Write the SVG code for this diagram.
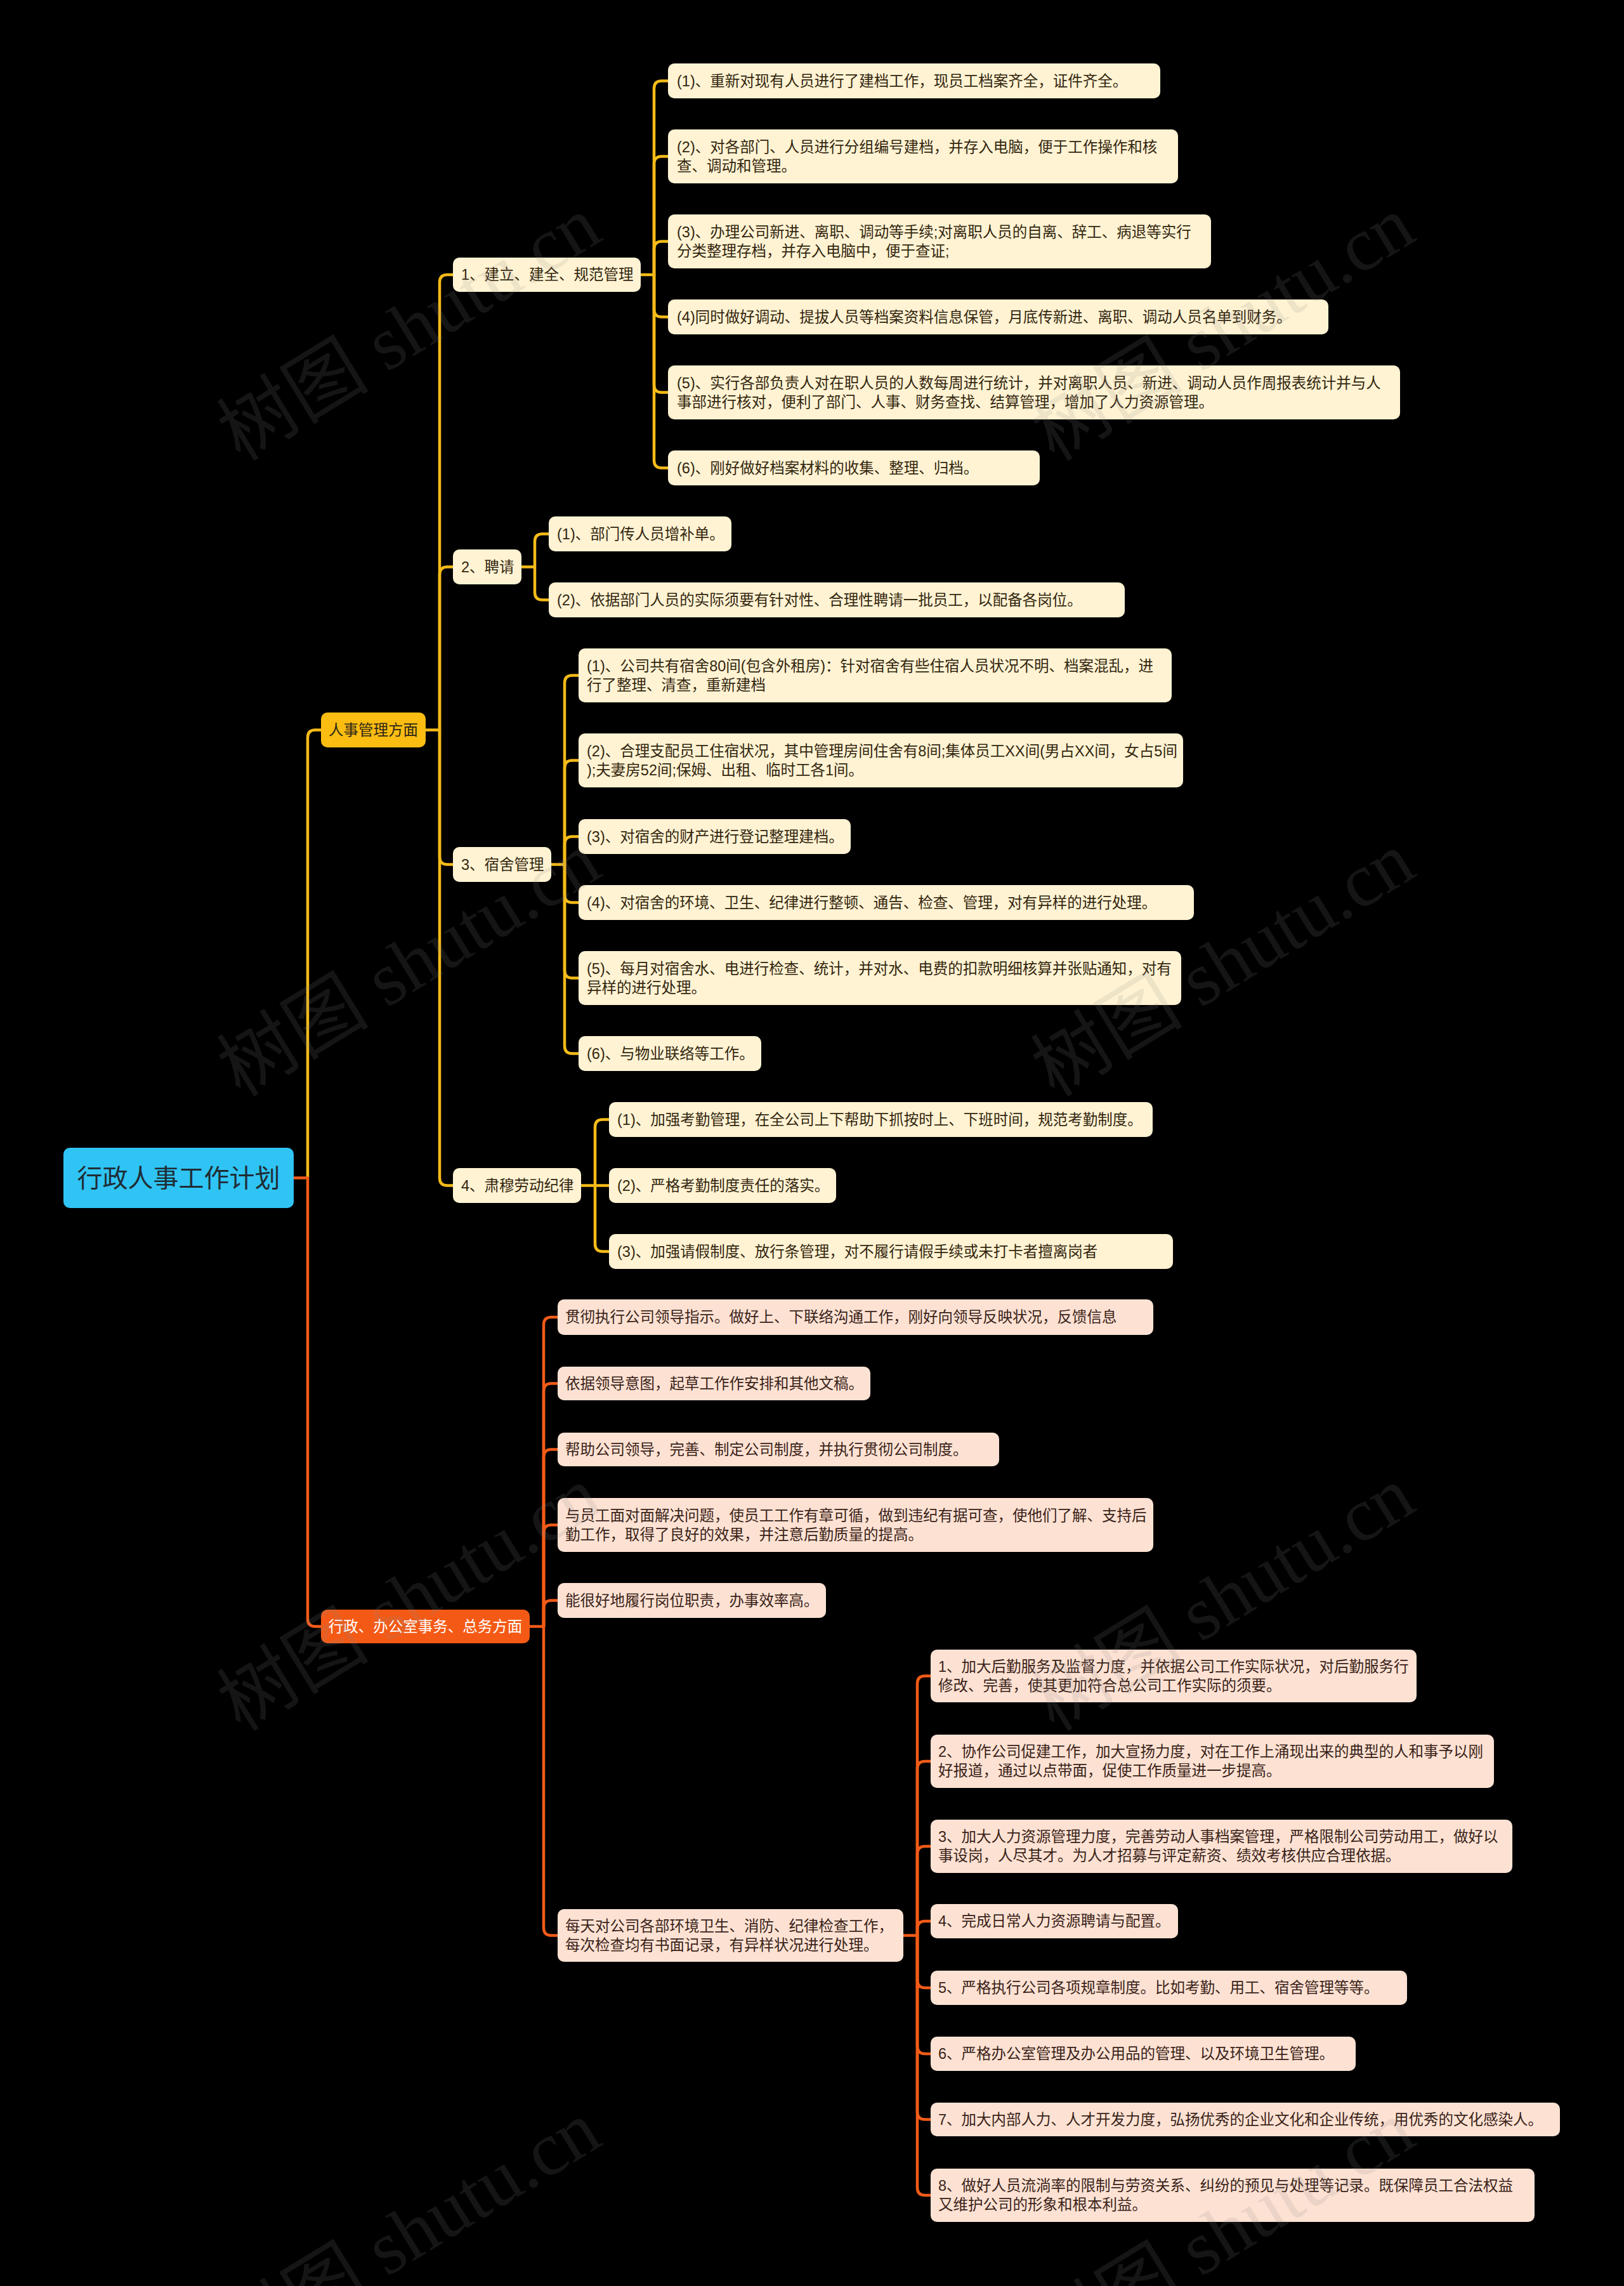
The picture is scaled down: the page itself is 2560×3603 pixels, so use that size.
<svg xmlns="http://www.w3.org/2000/svg" width="2560" height="3603" viewBox="0 0 2560 3603">
<style>
text{font-family:"Liberation Sans","Noto Sans CJK SC",sans-serif;dominant-baseline:central}
.cream{fill:#fff3d3}
.peach{fill:#fde2d3}
.t{font-size:23.5px;fill:#33260f}
.tp{font-size:23.5px;fill:#3a2219}
.y{fill:none;stroke:#f5bb18;stroke-width:4.5;stroke-linecap:round;stroke-linejoin:round}
.o{fill:none;stroke:#f25b17;stroke-width:4.5;stroke-linecap:round;stroke-linejoin:round}
.wm{font-family:"Liberation Serif","Noto Sans CJK SC",serif;font-size:120px;fill:#8a8a8a;opacity:0.15;text-anchor:middle}
</style>
<rect x="0" y="0" width="2560" height="3603" fill="#000"/>
<g id="connectors">
<path class="y" d="M485,1856.5 V1162.5 Q485,1150.5 497,1150.5 H506"/>
<path class="o" d="M463,1856.5 H485 V2551.5 Q485,2563.5 497,2563.5 H506"/>
<path class="y" d="M671,1150.5 H693 V445 Q693,433 705,433 H714"/>
<path class="y" d="M693,1150.5 V905.5 Q693,893.5 705,893.5 H714"/>
<path class="y" d="M693,1150.5 V1350.5 Q693,1362.5 705,1362.5 H714"/>
<path class="y" d="M693,1150.5 V1856.5 Q693,1868.5 705,1868.5 H714"/>
<path class="y" d="M1010,433 H1031 V139.5 Q1031,127.5 1043,127.5 H1053"/>
<path class="y" d="M1031,433 V258.5 Q1031,246.5 1043,246.5 H1053"/>
<path class="y" d="M1031,433 V392.5 Q1031,380.5 1043,380.5 H1053"/>
<path class="y" d="M1031,433 V487.5 Q1031,499.5 1043,499.5 H1053"/>
<path class="y" d="M1031,433 V606.5 Q1031,618.5 1043,618.5 H1053"/>
<path class="y" d="M1031,433 V725.5 Q1031,737.5 1043,737.5 H1053"/>
<path class="y" d="M822,893.5 H843 V853.5 Q843,841.5 855,841.5 H865"/>
<path class="y" d="M843,893.5 V933.5 Q843,945.5 855,945.5 H865"/>
<path class="y" d="M869,1362.5 H890 V1076.5 Q890,1064.5 902,1064.5 H912"/>
<path class="y" d="M890,1362.5 V1210.5 Q890,1198.5 902,1198.5 H912"/>
<path class="y" d="M890,1362.5 V1330.5 Q890,1318.5 902,1318.5 H912"/>
<path class="y" d="M890,1362.5 V1410.5 Q890,1422.5 902,1422.5 H912"/>
<path class="y" d="M890,1362.5 V1529.5 Q890,1541.5 902,1541.5 H912"/>
<path class="y" d="M890,1362.5 V1648.5 Q890,1660.5 902,1660.5 H912"/>
<path class="y" d="M916,1868.5 H938 V1776.5 Q938,1764.5 950,1764.5 H960"/>
<path class="y" d="M938,1868.5 H960"/>
<path class="y" d="M938,1868.5 V1960.5 Q938,1972.5 950,1972.5 H960"/>
<path class="o" d="M835,2563.5 H857 V2088 Q857,2076 869,2076 H879"/>
<path class="o" d="M857,2563.5 V2192.5 Q857,2180.5 869,2180.5 H879"/>
<path class="o" d="M857,2563.5 V2296.5 Q857,2284.5 869,2284.5 H879"/>
<path class="o" d="M857,2563.5 V2415.5 Q857,2403.5 869,2403.5 H879"/>
<path class="o" d="M857,2563.5 V2534.5 Q857,2522.5 869,2522.5 H879"/>
<path class="o" d="M857,2563.5 V3038.5 Q857,3050.5 869,3050.5 H879"/>
<path class="o" d="M1424,3050.5 H1446 V2653.5 Q1446,2641.5 1458,2641.5 H1467"/>
<path class="o" d="M1446,3050.5 V2788 Q1446,2776 1458,2776 H1467"/>
<path class="o" d="M1446,3050.5 V2922 Q1446,2910 1458,2910 H1467"/>
<path class="o" d="M1446,3050.5 V3040 Q1446,3028 1458,3028 H1467"/>
<path class="o" d="M1446,3050.5 V3121 Q1446,3133 1458,3133 H1467"/>
<path class="o" d="M1446,3050.5 V3225 Q1446,3237 1458,3237 H1467"/>
<path class="o" d="M1446,3050.5 V3328.5 Q1446,3340.5 1458,3340.5 H1467"/>
<path class="o" d="M1446,3050.5 V3448 Q1446,3460 1458,3460 H1467"/>
</g>
<g id="root"><rect x="100" y="1809" width="363" height="95" rx="10" fill="#2fc4f4"/><text x="281.5" y="1856.5" font-size="40" fill="#1f2d36" text-anchor="middle">行政人事工作计划</text></g>
<g id="b1"><rect x="506" y="1123" width="165" height="55" rx="10" fill="#fbbd12"/><text x="588.5" y="1150.5" font-size="23.5" fill="#2e2616" text-anchor="middle">人事管理方面</text></g>
<g id="b2"><rect x="506" y="2537" width="329" height="53" rx="10" fill="#f45a16"/><text x="670.5" y="2563.5" font-size="23.5" fill="#ffffff" text-anchor="middle">行政、办公室事务、总务方面</text></g>
<g id="n1"><rect class="cream" x="714" y="406" width="296" height="54" rx="10"/><text class="t" x="727" y="433">1、建立、建全、规范管理</text></g>
<g id="n2"><rect class="cream" x="714" y="866" width="108" height="55" rx="10"/><text class="t" x="727" y="893.5">2、聘请</text></g>
<g id="n3"><rect class="cream" x="714" y="1335" width="155" height="55" rx="10"/><text class="t" x="727" y="1362.5">3、宿舍管理</text></g>
<g id="n4"><rect class="cream" x="714" y="1841" width="202" height="55" rx="10"/><text class="t" x="727" y="1868.5">4、肃穆劳动纪律</text></g>
<g id="a1"><rect class="cream" x="1053" y="100" width="776" height="55" rx="10"/><text class="t" x="1067" y="127.5">(1)、重新对现有人员进行了建档工作，现员工档案齐全，证件齐全。</text></g>
<g id="a2"><rect class="cream" x="1053" y="204" width="804" height="85" rx="10"/><text class="t" x="1067" y="231.5">(2)、对各部门、人员进行分组编号建档，并存入电脑，便于工作操作和核</text><text class="t" x="1067" y="261.5">查、调动和管理。</text></g>
<g id="a3"><rect class="cream" x="1053" y="338" width="856" height="85" rx="10"/><text class="t" x="1067" y="365.5">(3)、办理公司新进、离职、调动等手续;对离职人员的自离、辞工、病退等实行</text><text class="t" x="1067" y="395.5">分类整理存档，并存入电脑中，便于查证;</text></g>
<g id="a4"><rect class="cream" x="1053" y="472" width="1041" height="55" rx="10"/><text class="t" x="1067" y="499.5">(4)同时做好调动、提拔人员等档案资料信息保管，月底传新进、离职、调动人员名单到财务。</text></g>
<g id="a5"><rect class="cream" x="1053" y="576" width="1154" height="85" rx="10"/><text class="t" x="1067" y="603.5">(5)、实行各部负责人对在职人员的人数每周进行统计，并对离职人员、新进、调动人员作周报表统计并与人</text><text class="t" x="1067" y="633.5">事部进行核对，便利了部门、人事、财务查找、结算管理，增加了人力资源管理。</text></g>
<g id="a6"><rect class="cream" x="1053" y="710" width="586" height="55" rx="10"/><text class="t" x="1067" y="737.5">(6)、刚好做好档案材料的收集、整理、归档。</text></g>
<g id="b1c1"><rect class="cream" x="865" y="814" width="288" height="55" rx="10"/><text class="t" x="878" y="841.5">(1)、部门传人员增补单。</text></g>
<g id="b1c2"><rect class="cream" x="865" y="918" width="908" height="55" rx="10"/><text class="t" x="878" y="945.5">(2)、依据部门人员的实际须要有针对性、合理性聘请一批员工，以配备各岗位。</text></g>
<g id="c1"><rect class="cream" x="912" y="1022" width="935" height="85" rx="10"/><text class="t" x="925" y="1049.5">(1)、公司共有宿舍80间(包含外租房)：针对宿舍有些住宿人员状况不明、档案混乱，进</text><text class="t" x="925" y="1079.5">行了整理、清查，重新建档</text></g>
<g id="c2"><rect class="cream" x="912" y="1156" width="953" height="85" rx="10"/><text class="t" x="925" y="1183.5">(2)、合理支配员工住宿状况，其中管理房间住舍有8间;集体员工XX间(男占XX间，女占5间</text><text class="t" x="925" y="1213.5">);夫妻房52间;保姆、出租、临时工各1间。</text></g>
<g id="c3"><rect class="cream" x="912" y="1291" width="429" height="55" rx="10"/><text class="t" x="925" y="1318.5">(3)、对宿舍的财产进行登记整理建档。</text></g>
<g id="c4"><rect class="cream" x="912" y="1395" width="970" height="55" rx="10"/><text class="t" x="925" y="1422.5">(4)、对宿舍的环境、卫生、纪律进行整顿、通告、检查、管理，对有异样的进行处理。</text></g>
<g id="c5"><rect class="cream" x="912" y="1499" width="950" height="85" rx="10"/><text class="t" x="925" y="1526.5">(5)、每月对宿舍水、电进行检查、统计，并对水、电费的扣款明细核算并张贴通知，对有</text><text class="t" x="925" y="1556.5">异样的进行处理。</text></g>
<g id="c6"><rect class="cream" x="912" y="1633" width="288" height="55" rx="10"/><text class="t" x="925" y="1660.5">(6)、与物业联络等工作。</text></g>
<g id="d1"><rect class="cream" x="960" y="1737" width="857" height="55" rx="10"/><text class="t" x="973" y="1764.5">(1)、加强考勤管理，在全公司上下帮助下抓按时上、下班时间，规范考勤制度。</text></g>
<g id="d2"><rect class="cream" x="960" y="1841" width="358" height="55" rx="10"/><text class="t" x="973" y="1868.5">(2)、严格考勤制度责任的落实。</text></g>
<g id="d3"><rect class="cream" x="960" y="1945" width="889" height="55" rx="10"/><text class="t" x="973" y="1972.5">(3)、加强请假制度、放行条管理，对不履行请假手续或未打卡者擅离岗者</text></g>
<g id="e1"><rect class="peach" x="879" y="2048" width="939" height="56" rx="10"/><text class="tp" x="891" y="2076">贯彻执行公司领导指示。做好上、下联络沟通工作，刚好向领导反映状况，反馈信息</text></g>
<g id="e2"><rect class="peach" x="879" y="2154" width="493" height="53" rx="10"/><text class="tp" x="891" y="2180.5">依据领导意图，起草工作作安排和其他文稿。</text></g>
<g id="e3"><rect class="peach" x="879" y="2258" width="696" height="53" rx="10"/><text class="tp" x="891" y="2284.5">帮助公司领导，完善、制定公司制度，并执行贯彻公司制度。</text></g>
<g id="e4"><rect class="peach" x="879" y="2361" width="939" height="85" rx="10"/><text class="tp" x="891" y="2388.5">与员工面对面解决问题，使员工工作有章可循，做到违纪有据可查，使他们了解、支持后</text><text class="tp" x="891" y="2418.5">勤工作，取得了良好的效果，并注意后勤质量的提高。</text></g>
<g id="e5"><rect class="peach" x="879" y="2495" width="423" height="55" rx="10"/><text class="tp" x="891" y="2522.5">能很好地履行岗位职责，办事效率高。</text></g>
<g id="e6"><rect class="peach" x="879" y="3009" width="545" height="83" rx="10"/><text class="tp" x="891" y="3035.5">每天对公司各部环境卫生、消防、纪律检查工作，</text><text class="tp" x="891" y="3065.5">每次检查均有书面记录，有异样状况进行处理。</text></g>
<g id="f1"><rect class="peach" x="1467" y="2600" width="766" height="83" rx="10"/><text class="tp" x="1479" y="2626.5">1、加大后勤服务及监督力度，并依据公司工作实际状况，对后勤服务行</text><text class="tp" x="1479" y="2656.5">修改、完善，使其更加符合总公司工作实际的须要。</text></g>
<g id="f2"><rect class="peach" x="1467" y="2734" width="888" height="84" rx="10"/><text class="tp" x="1479" y="2761">2、协作公司促建工作，加大宣扬力度，对在工作上涌现出来的典型的人和事予以刚</text><text class="tp" x="1479" y="2791">好报道，通过以点带面，促使工作质量进一步提高。</text></g>
<g id="f3"><rect class="peach" x="1467" y="2868" width="917" height="84" rx="10"/><text class="tp" x="1479" y="2895">3、加大人力资源管理力度，完善劳动人事档案管理，严格限制公司劳动用工，做好以</text><text class="tp" x="1479" y="2925">事设岗，人尽其才。为人才招募与评定薪资、绩效考核供应合理依据。</text></g>
<g id="f4"><rect class="peach" x="1467" y="3001" width="390" height="54" rx="10"/><text class="tp" x="1479" y="3028">4、完成日常人力资源聘请与配置。</text></g>
<g id="f5"><rect class="peach" x="1467" y="3106" width="751" height="54" rx="10"/><text class="tp" x="1479" y="3133">5、严格执行公司各项规章制度。比如考勤、用工、宿舍管理等等。</text></g>
<g id="f6"><rect class="peach" x="1467" y="3210" width="670" height="54" rx="10"/><text class="tp" x="1479" y="3237">6、严格办公室管理及办公用品的管理、以及环境卫生管理。</text></g>
<g id="f7"><rect class="peach" x="1467" y="3314" width="992" height="53" rx="10"/><text class="tp" x="1479" y="3340.5">7、加大内部人力、人才开发力度，弘扬优秀的企业文化和企业传统，用优秀的文化感染人。</text></g>
<g id="f8"><rect class="peach" x="1467" y="3418" width="952" height="84" rx="10"/><text class="tp" x="1479" y="3445">8、做好人员流淌率的限制与劳资关系、纠纷的预见与处理等记录。既保障员工合法权益</text><text class="tp" x="1479" y="3475">又维护公司的形象和根本利益。</text></g>
<g id="watermark">
<text class="wm" transform="translate(645,518) rotate(-31.5)">树图 shutu.cn</text>
<text class="wm" transform="translate(1928,518) rotate(-31.5)">树图 shutu.cn</text>
<text class="wm" transform="translate(645,1520) rotate(-31.5)">树图 shutu.cn</text>
<text class="wm" transform="translate(1928,1520) rotate(-31.5)">树图 shutu.cn</text>
<text class="wm" transform="translate(645,2520) rotate(-31.5)">树图 shutu.cn</text>
<text class="wm" transform="translate(1928,2520) rotate(-31.5)">树图 shutu.cn</text>
<text class="wm" transform="translate(645,3520) rotate(-31.5)">树图 shutu.cn</text>
<text class="wm" transform="translate(1928,3520) rotate(-31.5)">树图 shutu.cn</text>
</g>
</svg>
